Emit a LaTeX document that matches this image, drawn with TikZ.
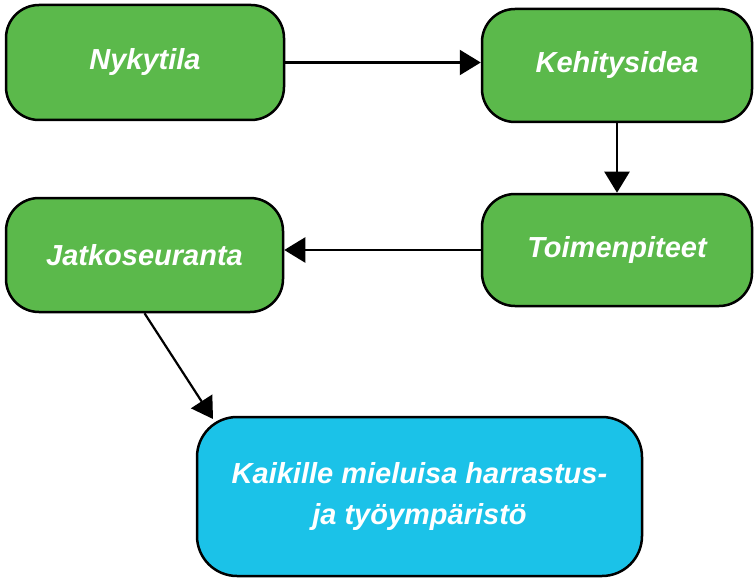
\documentclass[tikz,border=0pt]{standalone}
\usepackage{fontspec}
\setmainfont{Liberation Sans}
\usepackage{tikz}
\usetikzlibrary{arrows.meta}
\definecolor{vihrea}{HTML}{5BB94B}
\definecolor{sininen}{HTML}{1BC2E8}
\tikzset{
    vaihe/.style={draw=black, line width=2.5pt, fill=vihrea, rounded corners=33pt,
        inner sep=0pt, text=white, font=\fontsize{29}{41}\selectfont\bfseries\itshape},
    tavoite/.style={vaihe, fill=sininen, rounded corners=40pt, align=center},
    nuoli/.style={line width=2.2pt, -{Triangle[length=21pt,width=25pt]}}
}

\begin{document}
\begin{tikzpicture}[x=1pt, y=-1pt]
    \useasboundingbox (0,0) rectangle (754,580);

    % Vaiheet
    \node[vaihe, minimum width=278pt, minimum height=115pt] (nyky) at (145,62.5) {Nykytila};
    \node[vaihe, minimum width=270pt, minimum height=113pt] (kehi) at (617,65.5) {Kehitysidea};
    \node[vaihe, minimum width=270pt, minimum height=112pt] (toim) at (617,250) {Toimenpiteet};
    \node[vaihe, minimum width=277pt, minimum height=114pt] (jatko) at (144.5,255) {Jatkoseuranta};

    % Tavoite
    \node[tavoite, minimum width=445pt, minimum height=159pt] (tavo) at (419.5,496.5)
        {Kaikille mieluisa harrastus-\\ja työympäristö};
    \coordinate (karki) at (213,419);

    % Nuolet
    \draw[nuoli] (nyky.east) -- (nyky.east -| kehi.west);
    \draw[nuoli] (kehi.south) -- (toim.north);
    \draw[nuoli] (toim.west) -- (toim.west -| jatko.east);
    \draw[nuoli] (jatko.south) -- (karki);
\end{tikzpicture}
\end{document}
